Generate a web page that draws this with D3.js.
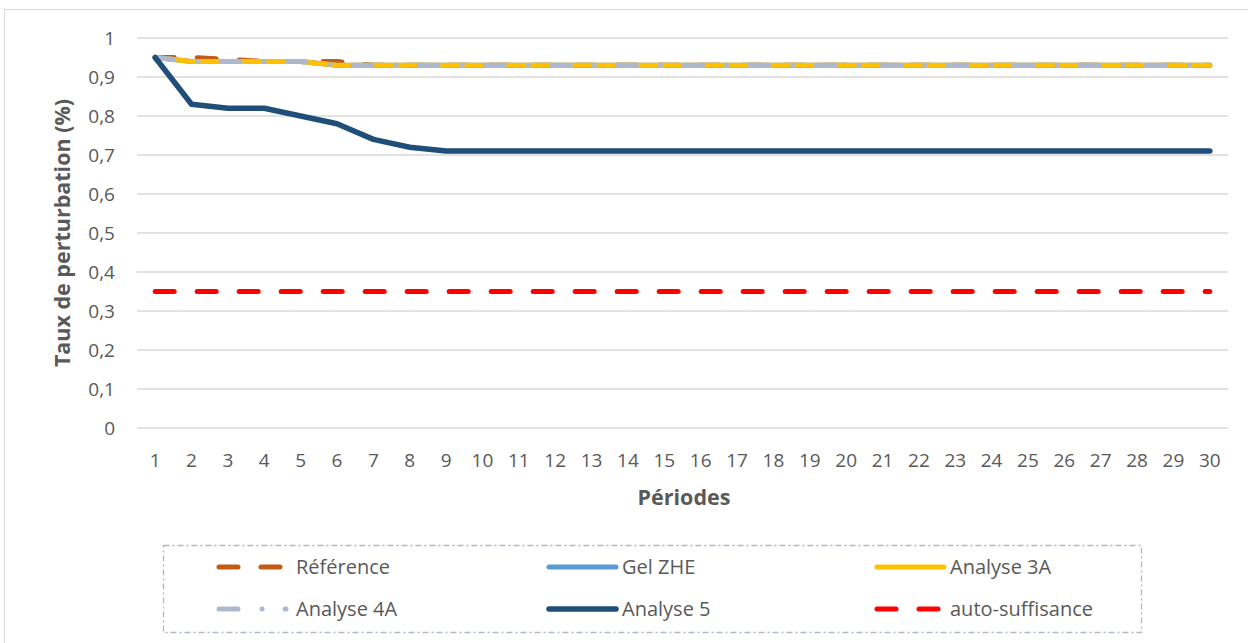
<!DOCTYPE html>
<html>
<head>
<meta charset="utf-8">
<script src="https://cdn.jsdelivr.net/npm/d3@7"></script>
<style>
  body { margin: 0; background: #fff; }
  text { font-family: "Open Sans", "Noto Sans", sans-serif; fill: #595959; }
</style>
</head>
<body>
<svg width="1248" height="643"></svg>
<script>
// data
const periods = d3.range(1, 31);
const yTicks = [0, 0.1, 0.2, 0.3, 0.4, 0.5, 0.6, 0.7, 0.8, 0.9, 1];
const reference = [0.95, 0.95, 0.945, 0.94, 0.94, 0.94, 0.93].concat(d3.range(23).map(() => 0.93));
const gelZHE = [0.95, 0.94, 0.94, 0.94, 0.94, 0.93].concat(d3.range(24).map(() => 0.93));
const analyse3A = [0.95, 0.94, 0.94, 0.94, 0.94, 0.93].concat(d3.range(24).map(() => 0.93));
const analyse4A = [0.95, 0.94, 0.94, 0.94, 0.94, 0.93].concat(d3.range(24).map(() => 0.93));
const analyse5 = [0.95, 0.83, 0.82, 0.82, 0.80, 0.78, 0.74, 0.72].concat(d3.range(22).map(() => 0.71));
const autoSuffisance = d3.range(30).map(() => 0.35);

const series = [
  {name: 'Référence', values: reference, color: '#C55A11', dash: '19,23', w: 5},
  {name: 'Gel ZHE', values: gelZHE, color: '#5B9BD5', dash: null, w: 5},
  {name: 'Analyse 3A', values: analyse3A, color: '#FFC000', dash: null, w: 5},
  {name: 'Analyse 4A', values: analyse4A, color: '#ADB9CA', dash: '19,24,0.1,23', w: 5},
  {name: 'Analyse 5', values: analyse5, color: '#1F4E79', dash: null, w: 5.5},
  {name: 'auto-suffisance', values: autoSuffisance, color: '#FF0000', dash: '19,23', w: 5}
];

let svg = d3.select('svg');

// chart border
svg.append('rect')
    .attr('x', 4.5).attr('y', 9.5)
    .attr('width', 1260).attr('height', 660)
    .attr('fill', 'none')
    .attr('stroke', '#d9d9d9');

let plotLeft = 137, plotRight = 1228, plotTop = 38, plotBottom = 428;

let x = d3.scalePoint()
    .domain(periods)
    .range([plotLeft, plotRight])
    .padding(0.5);

let y = d3.scaleLinear()
    .domain([0, 1])
    .range([plotBottom, plotTop]);

// gridlines
svg.append('g')
    .selectAll('line')
    .data(yTicks)
    .enter()
    .append('line')
    .attr('x1', plotLeft).attr('x2', plotRight)
    .attr('y1', d => y(d)).attr('y2', d => y(d))
    .attr('stroke', '#d9d9d9')
    .attr('stroke-width', 1.3);

// y axis labels
let fmt = d => String(d).replace('.', ',');
svg.append('g')
    .selectAll('text')
    .data(yTicks)
    .enter()
    .append('text')
    .attr('x', 115)
    .attr('y', d => y(d))
    .attr('dy', '0.35em')
    .attr('text-anchor', 'end')
    .attr('font-size', 19)
    .text(fmt);

// x axis labels
svg.append('g')
    .selectAll('text')
    .data(periods)
    .enter()
    .append('text')
    .attr('x', d => x(d))
    .attr('y', 460)
    .attr('dy', '0.35em')
    .attr('text-anchor', 'middle')
    .attr('font-size', 19)
    .text(d => d);

// axis titles
svg.append('text')
    .attr('x', 684).attr('y', 497)
    .attr('dy', '0.35em')
    .attr('text-anchor', 'middle')
    .attr('font-size', 21.5)
    .attr('font-weight', 'bold')
    .text('Périodes');

svg.append('text')
    .attr('transform', 'translate(62,233) rotate(-90)')
    .attr('dy', '0.35em')
    .attr('text-anchor', 'middle')
    .attr('font-size', 21.5)
    .attr('font-weight', 'bold')
    .text('Taux de perturbation (%)');

// lines
let line = d3.line()
    .x((d, i) => x(periods[i]))
    .y(d => y(d));

svg.append('g')
    .selectAll('path')
    .data(series)
    .enter()
    .append('path')
    .attr('d', d => line(d.values))
    .attr('fill', 'none')
    .attr('stroke', d => d.color)
    .attr('stroke-width', d => d.w)
    .attr('stroke-dasharray', d => d.dash)
    .attr('stroke-linecap', 'round')
    .attr('stroke-linejoin', 'round');

// legend
svg.append('rect')
    .attr('x', 163.5).attr('y', 545.5)
    .attr('width', 978).attr('height', 87)
    .attr('fill', 'none')
    .attr('stroke', '#ADB9CA')
    .attr('stroke-width', 1.3)
    .attr('stroke-dasharray', '6,3,2,3');

let colX = [219, 549, 877], textX = [77, 73, 73], rowY = [567, 609];
let legend = svg.append('g')
    .selectAll('g')
    .data(series)
    .enter()
    .append('g')
    .attr('transform', (d, i) => `translate(${colX[i % 3]}, ${rowY[Math.floor(i / 3)]})`);

legend.append('line')
    .attr('x1', 0).attr('x2', 67)
    .attr('y1', 0).attr('y2', 0)
    .attr('stroke', d => d.color)
    .attr('stroke-width', d => d.w)
    .attr('stroke-dasharray', d => d.dash)
    .attr('stroke-linecap', 'round');

legend.append('text')
    .attr('x', (d, i) => textX[i % 3])
    .attr('y', 0)
    .attr('dy', '0.35em')
    .attr('font-size', 20)
    .text(d => d.name);
</script>
</body>
</html>
